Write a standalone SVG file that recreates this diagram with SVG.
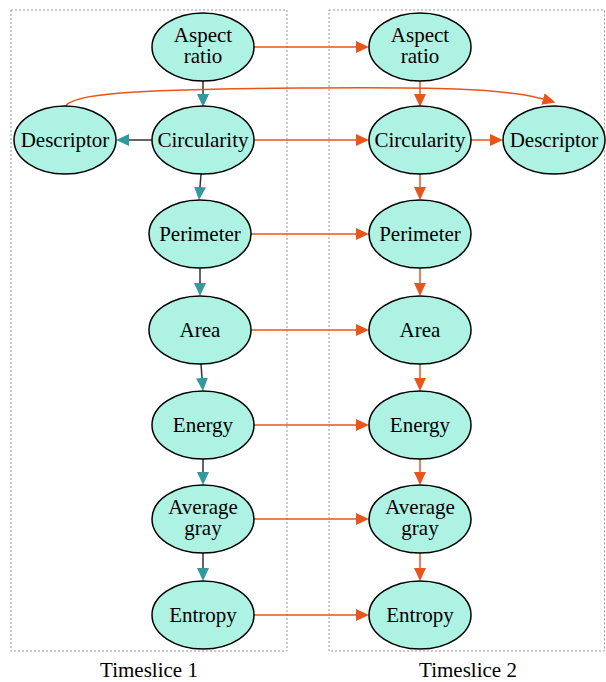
<svg xmlns="http://www.w3.org/2000/svg" width="606" height="682" viewBox="0 0 606 682">
<style>
.cl{fill:none;stroke:#999;stroke-width:1;stroke-dasharray:2,2}
.nd ellipse{fill:#adf2e3;stroke:#000;stroke-width:1.5}
text{font-family:"Liberation Serif","Times New Roman",serif;font-size:21px;fill:#000;text-anchor:middle}
.t1{fill:none;stroke:#333;stroke-width:1.5}
.t2{fill:none;stroke:#e8541a;stroke-width:1.5}
</style>
<defs>
<marker id="ah1" markerUnits="userSpaceOnUse" markerWidth="13" markerHeight="12" refX="0" refY="6" orient="auto"><path d="M0,0 L13,6 L0,12 z" fill="#3399a1"/></marker>
<marker id="ah2" markerUnits="userSpaceOnUse" markerWidth="13" markerHeight="12" refX="0" refY="6" orient="auto"><path d="M0,0 L13,6 L0,12 z" fill="#e8541a"/></marker>
</defs>
<g id="clusters">
<rect class="cl" x="11" y="10" width="276" height="641"/>
<rect class="cl" x="329" y="10" width="275.5" height="641"/>
<text x="149" y="677">Timeslice 1</text>
<text x="468" y="677">Timeslice 2</text>
</g>
<g id="connectors">
<path class="t1" marker-end="url(#ah1)" d="M203,81 L203,94"/>
<path class="t1" marker-end="url(#ah1)" d="M152,140 L129,140"/>
<path class="t1" marker-end="url(#ah1)" d="M201,174 L200,187"/>
<path class="t1" marker-end="url(#ah1)" d="M200,268 L200,283"/>
<path class="t1" marker-end="url(#ah1)" d="M201,364 L202,378"/>
<path class="t1" marker-end="url(#ah1)" d="M203,459 L203,472"/>
<path class="t1" marker-end="url(#ah1)" d="M203,553 L203,568"/>
<path class="t2" marker-end="url(#ah2)" d="M420,81 L420,94"/>
<path class="t2" marker-end="url(#ah2)" d="M420,174 L420,187"/>
<path class="t2" marker-end="url(#ah2)" d="M420,268 L420,283"/>
<path class="t2" marker-end="url(#ah2)" d="M420,364 L420,378"/>
<path class="t2" marker-end="url(#ah2)" d="M420,459 L420,472"/>
<path class="t2" marker-end="url(#ah2)" d="M420,553 L420,568"/>
<path class="t2" marker-end="url(#ah2)" d="M471,140 L490,140"/>
<path class="t2" marker-end="url(#ah2)" d="M254,47 L356,47"/>
<path class="t2" marker-end="url(#ah2)" d="M254,140 L356,140"/>
<path class="t2" marker-end="url(#ah2)" d="M251,234 L356,234"/>
<path class="t2" marker-end="url(#ah2)" d="M251,330 L356,330"/>
<path class="t2" marker-end="url(#ah2)" d="M254,425 L356,425"/>
<path class="t2" marker-end="url(#ah2)" d="M254,519 L356,519"/>
<path class="t2" marker-end="url(#ah2)" d="M254,615 L356,615"/>
<path class="t2" marker-end="url(#ah2)" d="M65,107 C70,94 130,89 300,88 C430,87 505,88 543,99"/>
</g>
<g id="n_aspect1" class="nd"><ellipse cx="203" cy="47" rx="51" ry="34"/><text x="203" y="42">Aspect</text><text x="203" y="63">ratio</text></g>
<g id="n_circ1" class="nd"><ellipse cx="203" cy="140" rx="51" ry="34"/><text x="203" y="147">Circularity</text></g>
<g id="n_desc1" class="nd"><ellipse cx="65" cy="140" rx="51" ry="34"/><text x="65" y="147">Descriptor</text></g>
<g id="n_per1" class="nd"><ellipse cx="200" cy="234" rx="51" ry="34"/><text x="200" y="241">Perimeter</text></g>
<g id="n_area1" class="nd"><ellipse cx="200" cy="330" rx="51" ry="34"/><text x="200" y="337">Area</text></g>
<g id="n_energy1" class="nd"><ellipse cx="203" cy="425" rx="51" ry="34"/><text x="203" y="432">Energy</text></g>
<g id="n_avg1" class="nd"><ellipse cx="203" cy="519" rx="51" ry="34"/><text x="203" y="514">Average</text><text x="203" y="535">gray</text></g>
<g id="n_ent1" class="nd"><ellipse cx="203" cy="615" rx="51" ry="34"/><text x="203" y="622">Entropy</text></g>
<g id="n_aspect2" class="nd"><ellipse cx="420" cy="47" rx="51" ry="34"/><text x="420" y="42">Aspect</text><text x="420" y="63">ratio</text></g>
<g id="n_circ2" class="nd"><ellipse cx="420" cy="140" rx="51" ry="34"/><text x="420" y="147">Circularity</text></g>
<g id="n_desc2" class="nd"><ellipse cx="554" cy="140" rx="51" ry="34"/><text x="554" y="147">Descriptor</text></g>
<g id="n_per2" class="nd"><ellipse cx="420" cy="234" rx="51" ry="34"/><text x="420" y="241">Perimeter</text></g>
<g id="n_area2" class="nd"><ellipse cx="420" cy="330" rx="51" ry="34"/><text x="420" y="337">Area</text></g>
<g id="n_energy2" class="nd"><ellipse cx="420" cy="425" rx="51" ry="34"/><text x="420" y="432">Energy</text></g>
<g id="n_avg2" class="nd"><ellipse cx="420" cy="519" rx="51" ry="34"/><text x="420" y="514">Average</text><text x="420" y="535">gray</text></g>
<g id="n_ent2" class="nd"><ellipse cx="420" cy="615" rx="51" ry="34"/><text x="420" y="622">Entropy</text></g>
</svg>
